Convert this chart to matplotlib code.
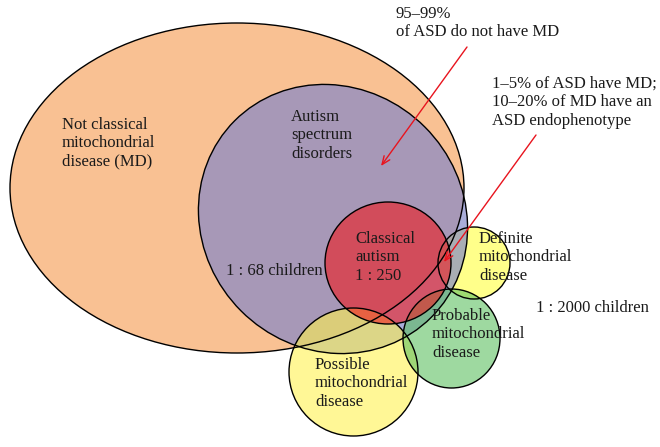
import matplotlib
matplotlib.use("Agg")
import matplotlib.pyplot as plt
from matplotlib.patches import Ellipse

# sets of the diagram, in picture pixels (y grows downwards)
SET_NAMES = ["not_classical_md", "definite_md", "asd", "possible_md", "probable_md", "classical_autism"]
CENTER_X = [237, 474, 333, 353.5, 451.5, 388]
CENTER_Y = [188, 263, 219, 372, 338.5, 263]
WIDTH = [454, 72, 278, 129, 97, 126]
HEIGHT = [330, 72, 260, 128, 99, 122]
ANGLE = [0, 0, 45, 0, 0, 0]
FILL = ["#f9c193", "#ffff3c", "#7f85c9", "#fff250", "#5dc061", "#f01a1e"]
ALPHA = [1.0, 0.6, 0.67, 0.6, 0.6, 0.6]

# labels
LABELS = [
    "Not classical\nmitochondrial\ndisease (MD)",
    "Autism\nspectrum\ndisorders",
    "1 : 68 children",
    "Classical\nautism\n1 : 250",
    "Definite\nmitochondrial\ndisease",
    "1 : 2000 children",
    "Probable\nmitochondrial\ndisease",
    "Possible\nmitochondrial\ndisease",
    "95\u201399%\nof ASD do not have MD",
    "1\u20135% of ASD have MD;\n10\u201320% of MD have an\nASD endophenotype",
]
LABEL_X = [62, 291, 226, 355, 479, 536, 432, 315, 396, 492]
LABEL_Y = [117, 109, 263, 231, 231, 300, 308, 357, 6, 76]

# red arrows: (text end) -> (head)
ARROW_FROM = [(467, 47), (536, 135)]
ARROW_TO = [(381, 166), (444, 262)]

fig = plt.figure(figsize=(6.6, 4.47), dpi=100)
ax = fig.add_axes([0, 0, 1, 1])
ax.set_xlim(0, 660)
ax.set_ylim(447, 0)
ax.axis("off")

# fills first, then all outlines on top
for i in range(len(SET_NAMES)):
    ax.add_patch(Ellipse((CENTER_X[i], CENTER_Y[i]), WIDTH[i], HEIGHT[i], angle=ANGLE[i],
                         facecolor=FILL[i], alpha=ALPHA[i], edgecolor="none", zorder=i + 1))
for i in range(len(SET_NAMES)):
    ax.add_patch(Ellipse((CENTER_X[i], CENTER_Y[i]), WIDTH[i], HEIGHT[i], angle=ANGLE[i],
                         facecolor="none", edgecolor="black", lw=1.0, zorder=10))

for txt, x, y in zip(LABELS, LABEL_X, LABEL_Y):
    ax.text(x, y, txt, ha="left", va="top", fontsize=12, family="Liberation Serif",
            color="#1a1a1a", linespacing=1.2, zorder=20)

for p0, p1 in zip(ARROW_FROM, ARROW_TO):
    ax.annotate("", xy=p1, xytext=p0,
                arrowprops=dict(arrowstyle="->,head_length=0.6,head_width=0.25",
                                color="#e8141e", lw=1.0, shrinkA=0, shrinkB=0),
                zorder=30)

fig.savefig("out.png", dpi=100)
plt.close(fig)
